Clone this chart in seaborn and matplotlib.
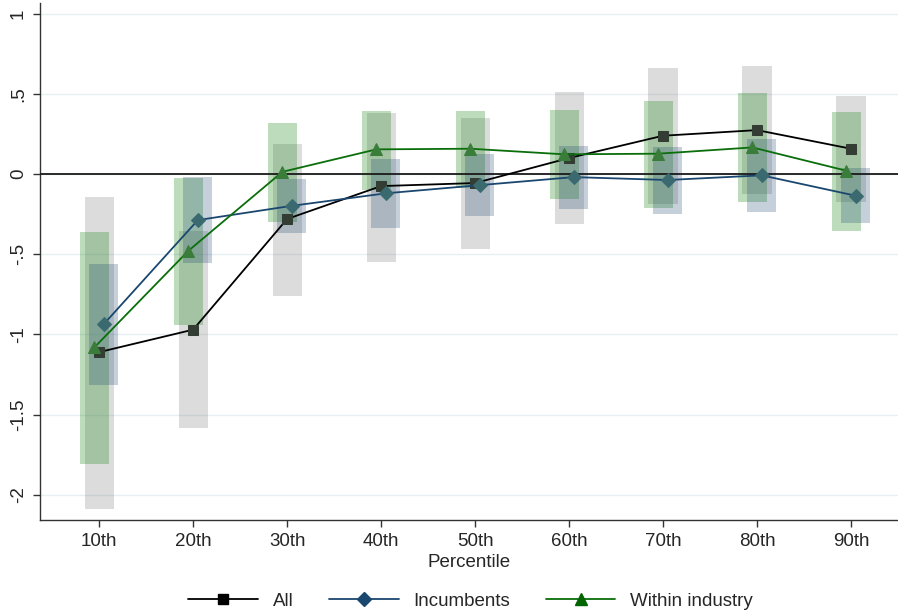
import matplotlib
matplotlib.use("Agg")
import matplotlib.pyplot as plt
import seaborn as sns
import numpy as np
import pandas as pd

percentiles = ["10th", "20th", "30th", "40th", "50th", "60th", "70th", "80th", "90th"]

all_est = [-1.11, -0.97, -0.28, -0.075, -0.056, 0.10, 0.239, 0.274, 0.158]
all_lo = [-2.09, -1.58, -0.76, -0.547, -0.468, -0.31, -0.187, -0.125, -0.175]
all_hi = [-0.143, -0.355, 0.19, 0.38, 0.349, 0.511, 0.661, 0.673, 0.486]

inc_est = [-0.935, -0.287, -0.198, -0.12, -0.069, -0.019, -0.037, -0.008, -0.135]
inc_lo = [-1.313, -0.553, -0.366, -0.335, -0.26, -0.216, -0.247, -0.235, -0.303]
inc_hi = [-0.561, -0.019, -0.031, 0.094, 0.125, 0.175, 0.168, 0.218, 0.037]

win_est = [-1.08, -0.478, 0.014, 0.154, 0.158, 0.123, 0.127, 0.166, 0.021]
win_lo = [-1.81, -0.94, -0.297, -0.10, -0.089, -0.156, -0.21, -0.173, -0.355]
win_hi = [-0.36, -0.025, 0.318, 0.393, 0.393, 0.399, 0.455, 0.505, 0.387]

yticks = [-2, -1.5, -1, -0.5, 0, 0.5, 1]
ytick_labels = ["-2", "-1.5", "-1", "-.5", "0", ".5", "1"]

sns.set_style("white")
plt.rcParams["font.family"] = ["Liberation Sans", "DejaVu Sans"]

fig = plt.figure(figsize=(8.98, 6.14), dpi=100)
ax = fig.add_axes([0.0445, 0.153, 0.9555, 0.842])

idx = np.arange(len(percentiles))
series = [
    # name, est, lo, hi, offset, bar colour, bar alpha, line colour, marker, marker colour, msize
    ("All", all_est, all_lo, all_hi, 0.0, "#808080", 0.27, "black", "s", "#333d33", 7),
    ("Within industry", win_est, win_lo, win_hi, -0.05, "#228b22", 0.3, "#0a6e0a", "^", "#3a7d3a", 8),
    ("Incumbents", inc_est, inc_lo, inc_hi, 0.05, "#1a476f", 0.25, "#1a476f", "D", "#3a6a70", 7.3),
]

for name, est, lo, hi, off, bc, ba, lc, mk, mc, ms in series:
    ax.bar(idx + off, np.array(hi) - np.array(lo), bottom=lo, width=0.31,
           color=bc, alpha=ba, linewidth=0, zorder=2)

ax.axhline(0, color="#1a1a1a", lw=1.3, zorder=3)

handles = {}
for name, est, lo, hi, off, bc, ba, lc, mk, mc, ms in [series[0], series[2], series[1]]:
    df = pd.DataFrame({"x": idx + off, "y": est})
    sns.lineplot(data=df, x="x", y="y", ax=ax, color=lc, lw=1.3, marker=mk,
                 markersize=ms, markerfacecolor=mc, markeredgecolor=mc,
                 zorder=4, legend=False)
    legend_mc = {"All": "black", "Incumbents": "#1a476f", "Within industry": "#006400"}[name]
    handles[name] = plt.Line2D([], [], color=lc, lw=1.3, marker=mk, markersize=ms,
                               markerfacecolor=legend_mc, markeredgecolor=legend_mc)

ax.set_xlim(-0.63, 8.5)
ax.set_ylim(-2.157, 1.066)
ax.set_xticks(idx)
ax.set_xticklabels(percentiles, fontsize=13.5)
ax.set_yticks(yticks)
ax.set_yticklabels(ytick_labels, fontsize=13.5, rotation=90, va="center")
ax.grid(axis="y", color="#e6eff1", lw=1)
ax.set_axisbelow(True)
ax.set_xlabel("Percentile", fontsize=13.5, labelpad=2.5)
ax.set_ylabel("")
ax.tick_params(axis="both", direction="out", length=5, width=1, color="#333333",
               bottom=True, left=True, pad=4.5)
sns.despine(ax=ax, top=True, right=True)
for s in ["left", "bottom"]:
    ax.spines[s].set_color("#333333")
    ax.spines[s].set_linewidth(1)

ax.legend([handles["All"], handles["Incumbents"], handles["Within industry"]],
          ["All", "Incumbents", "Within industry"],
          loc="center", bbox_to_anchor=(0.502, -0.157), ncol=3, frameon=False,
          fontsize=13.5, handlelength=3.7, columnspacing=1.9, handletextpad=0.8)

fig.savefig("out.png", dpi=100)
